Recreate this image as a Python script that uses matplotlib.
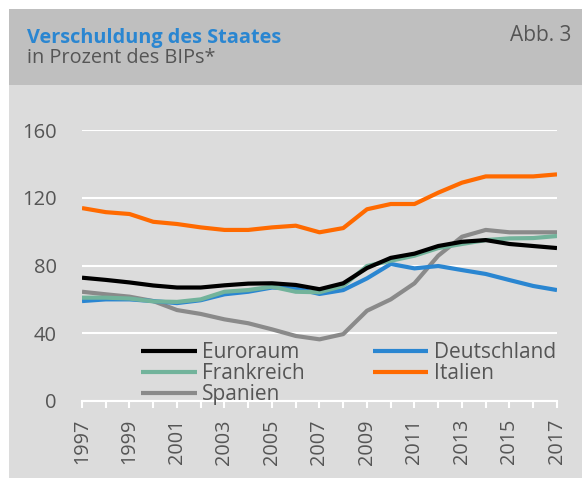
import numpy as np
import matplotlib.pyplot as plt
from matplotlib.patches import Rectangle

years = list(range(1997, 2018))

euroraum = [72.8, 71.5, 70.0, 68.2, 67.0, 67.0, 68.3, 69.3, 69.5, 68.5, 66.0, 69.5,
            78.5, 84.5, 87.0, 91.5, 94.0, 95.0, 92.7, 91.5, 90.3]
deutschland = [59.0, 60.0, 60.0, 59.0, 57.8, 59.5, 63.0, 64.5, 67.0, 66.5, 63.2, 65.5,
               72.4, 80.9, 78.3, 79.7, 77.3, 75.0, 71.4, 67.9, 65.5]
frankreich = [61.0, 61.0, 60.5, 58.8, 58.5, 60.0, 64.5, 65.5, 67.5, 64.5, 64.2, 68.0,
              79.7, 82.8, 85.8, 90.3, 92.7, 95.0, 96.0, 96.2, 97.4]
italien = [113.9, 111.5, 110.4, 105.8, 104.5, 102.5, 101.0, 101.0, 102.5, 103.5, 99.6, 102.1,
           113.2, 116.3, 116.3, 123.0, 128.9, 132.6, 132.6, 132.6, 133.8]
spanien = [64.5, 63.0, 61.6, 59.0, 53.7, 51.4, 48.2, 45.9, 42.3, 38.4, 36.4, 39.5,
           53.3, 60.0, 69.5, 85.8, 97.0, 101.0, 99.6, 99.6, 99.6]

series = [("Euroraum", euroraum, "#000000"),
          ("Frankreich", frankreich, "#72b39b"),
          ("Spanien", spanien, "#8a8a8a"),
          ("Deutschland", deutschland, "#2a86d1"),
          ("Italien", italien, "#ff6a00")]

plt.rcParams['font.family'] = ['Open Sans', 'DejaVu Sans']

W, H = 582, 478
fig = plt.figure(figsize=(W / 100, H / 100), dpi=100)
fig.patch.set_facecolor("white")

# background panels
fig.patches.append(Rectangle((9 / W, 0), 1 - 9 / W, (H - 85) / H, transform=fig.transFigure,
                             facecolor="#dcdcdc", edgecolor="none", zorder=-10))
fig.patches.append(Rectangle((9 / W, (H - 85) / H), 1 - 9 / W, 76 / H, transform=fig.transFigure,
                             facecolor="#bfbfbf", edgecolor="none", zorder=-10))

fig.text(27 / W, 1 - 43 / H, "Verschuldung des Staates", color="#2a86d1", fontsize=14.3,
         fontweight="bold", va="baseline", ha="left")
fig.text(27 / W, 1 - 63 / H, "in Prozent des BIPs*", color="#555555", fontsize=14.3,
         va="baseline", ha="left")
fig.text(571 / W, 1 - 41 / H, "Abb. 3", color="#555555", fontsize=15, va="baseline", ha="right")

ax = fig.add_axes([82 / W, 1 - 401 / H, (557 - 82) / W, (401 - 130) / H])
ax.set_facecolor("none")

draw_order = ["Spanien", "Deutschland", "Frankreich", "Euroraum", "Italien"]
handles = {}
for name, vals, col in series:
    z = 3 + draw_order.index(name)
    handles[name], = ax.plot(years, vals, color=col, lw=3.0, label=name, zorder=z,
                             solid_capstyle="butt")

ax.set_xlim(1997, 2017)
ax.set_ylim(0, 160)
ax.set_yticks([0, 40, 80, 120, 160])
ax.set_xticks(years)
ax.set_xticklabels([str(y) if (y - 1997) % 2 == 0 else "" for y in years], rotation=90)
ax.grid(axis="y", color="white", lw=1.5, zorder=1)
ax.set_axisbelow(True)
for s in ["top", "right", "left"]:
    ax.spines[s].set_visible(False)
ax.spines["bottom"].set_color("white")
ax.spines["bottom"].set_linewidth(1.5)
ax.tick_params(axis="x", color="white", width=1.5, length=5, labelsize=14.3,
               labelcolor="#555555", pad=8)
ax.tick_params(axis="y", length=0, labelsize=14.5, labelcolor="#555555", pad=18)

leg = ax.legend([handles[n] for n, _, _ in series], [n for n, _, _ in series], ncol=2,
                loc="lower left", bbox_to_anchor=(0.125, -0.015), frameon=False, fontsize=15,
                handlelength=2.65, handletextpad=0.25, columnspacing=3.3, labelspacing=0.0,
                borderaxespad=0, borderpad=0)
for t in leg.get_texts():
    t.set_color("#555555")

fig.savefig("out.png", dpi=100)
